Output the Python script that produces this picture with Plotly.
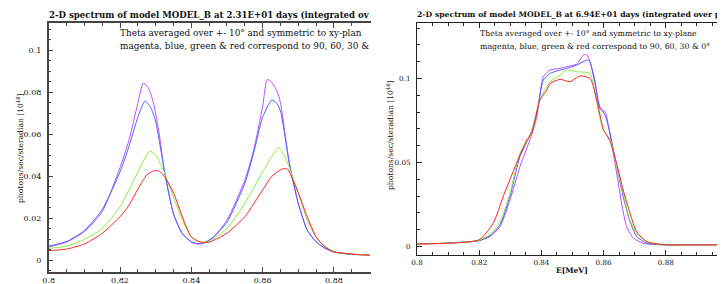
import plotly.graph_objects as go

# ---------------- data: left panel (2.31E+01 days) ----------------
left_mag_x = [0.800, 0.805, 0.810, 0.815, 0.820, 0.8225, 0.825, 0.8265, 0.8275, 0.8283, 0.8295, 0.831, 0.8325, 0.835, 0.8375, 0.840, 0.8415, 0.8435, 0.846, 0.850, 0.855, 0.8575, 0.860, 0.8613, 0.8626, 0.864, 0.865, 0.8675, 0.870, 0.8725, 0.875, 0.8775, 0.880, 0.885, 0.890]
left_mag_y = [0.0063, 0.0085, 0.0135, 0.023, 0.044, 0.057, 0.0746, 0.0841, 0.0830, 0.0808, 0.074, 0.060, 0.042, 0.022, 0.0125, 0.0085, 0.0076, 0.0080, 0.0105, 0.019, 0.038, 0.0524, 0.073, 0.086, 0.0845, 0.0805, 0.075, 0.046, 0.027, 0.0143, 0.0087, 0.0056, 0.0038, 0.0027, 0.0025]

left_blue_x = [0.800, 0.805, 0.810, 0.815, 0.820, 0.8225, 0.825, 0.827, 0.8285, 0.830, 0.8325, 0.835, 0.8375, 0.840, 0.8415, 0.8435, 0.846, 0.850, 0.855, 0.8575, 0.860, 0.8626, 0.864, 0.865, 0.8675, 0.870, 0.8725, 0.875, 0.8775, 0.880, 0.885, 0.890]
left_blue_y = [0.0066, 0.0088, 0.014, 0.024, 0.042, 0.054, 0.068, 0.0757, 0.073, 0.066, 0.042, 0.022, 0.0125, 0.0088, 0.0079, 0.0082, 0.0106, 0.018, 0.0365, 0.051, 0.068, 0.0762, 0.0745, 0.071, 0.046, 0.027, 0.0143, 0.0087, 0.0056, 0.0038, 0.0027, 0.0025]

left_green_x = [0.800, 0.805, 0.810, 0.815, 0.820, 0.8225, 0.825, 0.8275, 0.8284, 0.830, 0.8325, 0.835, 0.8375, 0.840, 0.8425, 0.845, 0.850, 0.855, 0.860, 0.8625, 0.8646, 0.866, 0.8675, 0.870, 0.8725, 0.875, 0.8775, 0.880, 0.885, 0.890]
left_green_y = [0.0056, 0.0066, 0.0098, 0.015, 0.0254, 0.0333, 0.042, 0.050, 0.0519, 0.050, 0.0413, 0.030, 0.019, 0.011, 0.0085, 0.0088, 0.0152, 0.027, 0.042, 0.049, 0.0536, 0.050, 0.044, 0.032, 0.019, 0.011, 0.0063, 0.004, 0.0028, 0.0025]

left_red_x = [0.800, 0.805, 0.810, 0.815, 0.820, 0.8225, 0.825, 0.8275, 0.8295, 0.831, 0.8325, 0.835, 0.8375, 0.840, 0.8425, 0.845, 0.850, 0.855, 0.860, 0.8625, 0.8654, 0.867, 0.8685, 0.870, 0.8725, 0.875, 0.8775, 0.880, 0.885, 0.890]
left_red_y = [0.0045, 0.0052, 0.0076, 0.0127, 0.0206, 0.026, 0.0337, 0.0405, 0.0425, 0.0423, 0.0397, 0.032, 0.0206, 0.011, 0.0086, 0.0085, 0.0128, 0.0206, 0.0333, 0.0397, 0.0433, 0.0433, 0.038, 0.032, 0.0206, 0.011, 0.0063, 0.004, 0.0028, 0.0022]

# ---------------- data: right panel (6.94E+01 days) ----------------
right_mag_x = [0.800, 0.810, 0.820, 0.8235, 0.8267, 0.8299, 0.8331, 0.8363, 0.8385, 0.8406, 0.8428, 0.846, 0.8481, 0.8514, 0.8535, 0.8546, 0.8554, 0.8572, 0.8588, 0.8605, 0.862, 0.8642, 0.8658, 0.8674, 0.8696, 0.8728, 0.876, 0.880, 0.890, 0.900]
right_mag_y = [0.0015, 0.002, 0.0035, 0.006, 0.0118, 0.0277, 0.0475, 0.0634, 0.077, 0.101, 0.105, 0.106, 0.107, 0.1086, 0.114, 0.114, 0.111, 0.099, 0.082, 0.080, 0.067, 0.0436, 0.0257, 0.0118, 0.0049, 0.0019, 0.0012, 0.001, 0.001, 0.001]

right_blue_x = [0.800, 0.810, 0.820, 0.8235, 0.8267, 0.8299, 0.8331, 0.8363, 0.8385, 0.8406, 0.8428, 0.846, 0.8481, 0.8514, 0.8546, 0.8556, 0.8572, 0.8588, 0.8605, 0.862, 0.8642, 0.8663, 0.8685, 0.8706, 0.8739, 0.877, 0.880, 0.890, 0.900]
right_blue_y = [0.0015, 0.002, 0.0035, 0.0065, 0.013, 0.030, 0.0535, 0.066, 0.079, 0.099, 0.103, 0.105, 0.106, 0.108, 0.111, 0.110, 0.097, 0.083, 0.078, 0.068, 0.0476, 0.0296, 0.0148, 0.006, 0.002, 0.0012, 0.001, 0.001, 0.001]

right_green_x = [0.800, 0.810, 0.820, 0.8235, 0.8267, 0.8299, 0.8331, 0.8363, 0.8395, 0.8428, 0.846, 0.8481, 0.8514, 0.8556, 0.8566, 0.8583, 0.8599, 0.862, 0.8642, 0.8663, 0.8685, 0.8706, 0.8739, 0.8771, 0.880, 0.890, 0.900]
right_green_y = [0.0015, 0.002, 0.0038, 0.0075, 0.0148, 0.0317, 0.0555, 0.0655, 0.087, 0.098, 0.102, 0.105, 0.104, 0.103, 0.097, 0.081, 0.069, 0.064, 0.0476, 0.0317, 0.0158, 0.0079, 0.0029, 0.0015, 0.001, 0.001, 0.001]

right_red_x = [0.800, 0.810, 0.820, 0.8245, 0.8277, 0.832, 0.8353, 0.837, 0.8395, 0.8417, 0.8428, 0.846, 0.8492, 0.8524, 0.8556, 0.8566, 0.8583, 0.8599, 0.862, 0.8642, 0.8663, 0.8685, 0.8706, 0.8739, 0.8803, 0.890, 0.900]
right_red_y = [0.0015, 0.002, 0.004, 0.0138, 0.0296, 0.0495, 0.0634, 0.068, 0.0872, 0.093, 0.097, 0.0995, 0.098, 0.1015, 0.100, 0.096, 0.083, 0.070, 0.063, 0.0495, 0.0336, 0.0198, 0.0088, 0.0029, 0.001, 0.001, 0.001]

left_title = "2-D spectrum of model MODEL_B at 2.31E+01 days (integrated ov"
right_title = "2-D spectrum of model MODEL_B at 6.94E+01 days (integrated over phi"
left_note1 = "Theta averaged over +- 10° and symmetric to xy-plan"
left_note2 = "magenta, blue, green &amp; red correspond to 90, 60, 30 &amp;"
right_note1 = "Theta averaged over +- 10° and symmetric to xy-plane"
right_note2 = "magenta, blue, green &amp; red correspond to 90, 60, 30 &amp; 0°"
y_label = "photons/sec/steradian [10<sup>48</sup>]"
x_label = "E[MeV]"

COLORS = {"mag": "#bf4dff", "blue": "#4a63ff", "green": "#86f03c", "red": "#ff2222"}

W, H = 725, 284
OFF = 8  # page body margin offset (screen pixels)
def px(s):
    return (s - OFF) / W
def py(s):
    return 1 - (s - OFF) / H

fig = go.Figure()
series = [
    ("mag", left_mag_x, left_mag_y, right_mag_x, right_mag_y),
    ("blue", left_blue_x, left_blue_y, right_blue_x, right_blue_y),
    ("green", left_green_x, left_green_y, right_green_x, right_green_y),
    ("red", left_red_x, left_red_y, right_red_x, right_red_y),
]
for key, lx, ly, rx, ry in series:
    fig.add_trace(go.Scatter(x=lx, y=ly, mode="lines", xaxis="x", yaxis="y",
                             line=dict(color=COLORS[key], width=1, shape="spline", smoothing=0.6),
                             showlegend=False, hoverinfo="skip"))
    fig.add_trace(go.Scatter(x=rx, y=ry, mode="lines", xaxis="x2", yaxis="y2",
                             line=dict(color=COLORS[key], width=1, shape="spline", smoothing=0.6),
                             showlegend=False, hoverinfo="skip"))

FONT = "DejaVu Serif"

def xaxis(domain, rng, anchor, linecolor, lw, fsize):
    return dict(domain=domain, range=rng, anchor=anchor, showgrid=False, zeroline=False,
                automargin=False,
                showline=True, linecolor=linecolor, linewidth=lw, mirror="ticks",
                ticks="inside", ticklen=5, tickcolor=linecolor, tickwidth=1,
                tick0=0.8, dtick=0.02, tickfont=dict(family=FONT, size=fsize, color="#111"),
                minor=dict(dtick=0.005, tick0=0.8, ticks="inside", ticklen=3, tickcolor=linecolor, showgrid=False))

def yaxis(domain, rng, anchor, dtick, mdtick, linecolor, lw, mirror, fsize):
    return dict(domain=domain, range=rng, anchor=anchor, showgrid=False, zeroline=False,
                automargin=False,
                showline=True, linecolor=linecolor, linewidth=lw, mirror=mirror,
                ticks="inside", ticklen=5, tickcolor=linecolor, tickwidth=1,
                tick0=0, dtick=dtick, tickfont=dict(family=FONT, size=fsize, color="#111"),
                ticklabelstandoff=4,
                minor=dict(dtick=mdtick, tick0=0, ticks="inside", ticklen=3, tickcolor=linecolor, showgrid=False))

fig.update_layout(
    width=W, height=H, margin=dict(l=0, r=0, t=0, b=0, autoexpand=False),
    paper_bgcolor="white", plot_bgcolor="white",
    xaxis=xaxis([px(48.7), px(370.5)], [0.8, 0.89026], "y", "#444", 1.5, 8),
    yaxis=yaxis([py(272), py(23)], [-0.00571, 0.11286], "x", 0.02, 0.005, "#444", 1.5, False, 8),
    xaxis2=xaxis([px(417), px(728)], [0.8, 0.9], "y2", "#222", 1, 7.2),
    yaxis2=yaxis([py(255), py(23)], [-0.00506, 0.1330], "x2", 0.05, 0.01, "#222", 1, "ticks", 7.2),
)

def note(text, x, y, size, bold=False, anchor="left", angle=0, family=FONT):
    fig.add_annotation(text=text, x=px(x), y=py(y), xref="paper", yref="paper",
                       xanchor=anchor, yanchor="middle", showarrow=False, textangle=angle,
                       font=dict(family=family, size=size, color="#111", weight="bold" if bold else "normal"))

note(left_title, 47, 15, 8.6, bold=True)
note(right_title, 415, 15, 7.7, bold=True)
note(left_note1, 118, 33, 8.9)
note(left_note2, 118, 46, 8.9)
note(right_note1, 478, 33, 7.8)
note(right_note2, 478, 46, 7.8)
note(y_label, 20, 148, 7.6, anchor="center", angle=-90)
note(y_label, 390, 135, 7.6, anchor="center", angle=-90)
note(x_label, 572, 270, 7.5, anchor="center", bold=True)

fig.write_html("out.html")
